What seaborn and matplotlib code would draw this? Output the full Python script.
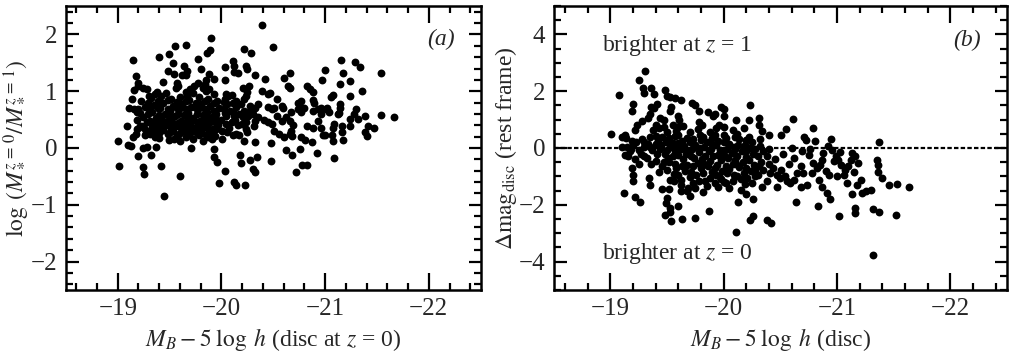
import matplotlib
matplotlib.use("Agg")
import matplotlib.pyplot as plt
import pandas as pd
import seaborn as sns
from matplotlib.ticker import MultipleLocator

# ---- panel (a): stellar-mass growth vs disc magnitude at z = 0 ----
a_upper = [
    (-19.90, 1.94), (-19.66, 1.81), (-19.55, 1.79), (-19.15, 1.55), (-19.40, 1.60),
    (-19.49, 1.65), (-19.86, 1.68), (-19.89, 1.72), (-19.77, 1.56), (-19.53, 1.49),
    (-19.64, 1.44), (-19.18, 1.27), (-19.48, 1.35), (-19.54, 1.31), (-19.67, 1.36),
    (-19.66, 1.29), (-19.62, 1.28), (-19.80, 1.39), (-19.88, 1.30), (-20.03, 1.42),
    (-19.20, 1.15), (-19.20, 1.09), (-19.44, 1.16), (-19.57, 1.14), (-19.58, 1.09),
    (-19.56, 1.06), (-19.85, 1.19), (-19.84, 1.12), (-19.93, 1.21), (-20.03, 1.20),
    (-19.77, 1.15), (-19.74, 1.09), (-19.70, 1.04), (-19.16, 1.02), (-19.24, 1.06),
    (-19.28, 1.04), (-19.30, 0.92), (-19.38, 0.99), (-19.66, 0.99), (-19.67, 0.92),
    (-19.82, 1.06), (-19.85, 1.01), (-19.88, 1.04), (-19.11, 0.70), (-19.14, 0.86),
    (-20.39, 2.16), (-20.50, 1.78), (-20.22, 1.74), (-20.29, 1.68), (-21.15, 1.55),
    (-21.00, 1.37), (-20.11, 1.53), (-20.12, 1.44), (-20.24, 1.44), (-20.25, 1.40),
    (-20.12, 1.33), (-20.16, 1.32), (-20.32, 1.28), (-20.42, 1.22), (-20.66, 1.32),
    (-20.60, 1.24), (-20.97, 1.19), (-21.14, 1.12), (-21.24, 1.18), (-20.64, 1.09),
    (-20.66, 1.06), (-20.83, 1.09), (-20.85, 1.04), (-20.88, 0.99), (-20.21, 1.06),
    (-20.27, 1.09), (-20.39, 1.01), (-20.45, 0.95), (-20.47, 0.96), (-20.54, 0.87),
    (-20.25, 0.99), (-20.24, 0.92), (-20.22, 0.86), (-20.14, 0.83), (-20.04, 0.95),
    (-20.03, 0.86), (-20.06, 0.91), (-21.08, 0.93), (-21.06, 0.89), (-21.24, 0.91),
    (-21.14, 0.77), (-20.77, 0.83), (-20.74, 0.80), (-20.88, 0.84), (-20.89, 0.80),
    (-20.58, 0.74), (-20.51, 0.71), (-20.45, 0.73), (-20.35, 0.77), (-20.32, 0.71),
    (-20.28, 0.74), (-21.02, 0.71), (-20.96, 0.71), (-20.78, 0.70),
]

a_cluster = [
    (-19.22, 0.82), (-19.26, 0.72), (-19.24, 0.55), (-19.28, 0.45), (-19.23, 0.38),
    (-19.30, 0.30), (-19.26, 0.22), (-19.32, 0.88), (-19.35, 0.76), (-19.33, 0.64),
    (-19.37, 0.52), (-19.34, 0.42), (-19.38, 0.34), (-19.35, 0.26), (-19.42, 0.92),
    (-19.44, 0.80), (-19.41, 0.70), (-19.46, 0.60), (-19.43, 0.50), (-19.47, 0.40),
    (-19.44, 0.32), (-19.48, 0.24), (-19.51, 0.86), (-19.53, 0.74), (-19.50, 0.66),
    (-19.55, 0.56), (-19.52, 0.46), (-19.56, 0.38), (-19.53, 0.30), (-19.57, 0.22),
    (-19.60, 0.90), (-19.62, 0.78), (-19.59, 0.68), (-19.64, 0.58), (-19.61, 0.48),
    (-19.65, 0.40), (-19.62, 0.32), (-19.66, 0.26), (-19.69, 0.84), (-19.71, 0.72),
    (-19.68, 0.62), (-19.73, 0.52), (-19.70, 0.44), (-19.74, 0.36), (-19.71, 0.28),
    (-19.78, 0.90), (-19.80, 0.78), (-19.77, 0.68), (-19.82, 0.58), (-19.79, 0.48),
    (-19.83, 0.40), (-19.80, 0.30), (-19.87, 0.86), (-19.89, 0.74), (-19.86, 0.64),
    (-19.91, 0.54), (-19.88, 0.44), (-19.92, 0.34), (-19.89, 0.26), (-19.96, 0.82),
    (-19.98, 0.70), (-19.95, 0.60), (-20.00, 0.50), (-19.97, 0.40), (-20.01, 0.30),
    (-20.05, 0.78), (-20.08, 0.66), (-20.04, 0.56), (-20.10, 0.46), (-20.07, 0.36),
    (-20.14, 0.72), (-20.17, 0.60), (-20.13, 0.50), (-20.20, 0.42), (-20.22, 0.66),
    (-20.26, 0.56), (-20.24, 0.46),
]

a_cluster_fill = [
    (-19.36, 0.95), (-19.47, 0.97), (-19.73, 0.96), (-19.93, 0.95), (-20.10, 0.93),
    (-19.29, 0.80), (-19.39, 0.83), (-19.48, 0.84), (-19.57, 0.81), (-19.66, 0.83),
    (-19.75, 0.80), (-19.84, 0.82), (-19.93, 0.79), (-20.02, 0.81), (-20.11, 0.80),
    (-20.19, 0.78), (-19.20, 0.68), (-19.30, 0.69), (-19.39, 0.71), (-19.48, 0.68),
    (-19.57, 0.70), (-19.66, 0.69), (-19.75, 0.71), (-19.84, 0.68), (-19.93, 0.66),
    (-20.02, 0.69), (-20.11, 0.64), (-20.28, 0.66), (-19.21, 0.62), (-19.29, 0.59),
    (-19.40, 0.58), (-19.49, 0.57), (-19.58, 0.60), (-19.67, 0.56), (-19.76, 0.59),
    (-19.85, 0.57), (-19.94, 0.55), (-20.03, 0.62), (-20.12, 0.57), (-20.21, 0.54),
    (-20.30, 0.60), (-19.19, 0.49), (-19.31, 0.48), (-19.39, 0.46), (-19.49, 0.49),
    (-19.58, 0.44), (-19.67, 0.47), (-19.76, 0.45), (-19.85, 0.49), (-19.94, 0.46),
    (-20.04, 0.43), (-20.16, 0.40), (-19.25, 0.35), (-19.33, 0.37), (-19.42, 0.38),
    (-19.51, 0.35), (-19.60, 0.37), (-19.69, 0.34), (-19.77, 0.38), (-19.86, 0.35),
    (-19.95, 0.33), (-20.05, 0.28), (-19.31, 0.24), (-19.40, 0.27), (-19.50, 0.28),
    (-19.59, 0.25), (-19.68, 0.22), (-19.76, 0.26), (-19.85, 0.23), (-19.94, 0.21),
    (-19.40, 0.17), (-19.54, 0.16), (-19.60, 0.13), (-19.73, 0.15), (-19.82, 0.12),
]

a_lower = [
    (-19.45, -0.84), (-19.01, -0.32), (-19.00, 0.13), (-19.09, 0.39), (-19.10, 0.06),
    (-19.13, 0.03), (-19.20, -0.15), (-19.24, -0.34), (-19.25, -0.46), (-19.24, 0.00),
    (-19.28, 0.01), (-19.32, -0.12), (-19.37, 0.02), (-19.42, -0.32), (-19.60, -0.50),
    (-19.71, 0.00), (-19.93, -0.02), (-19.93, -0.16), (-19.96, -0.25), (-20.03, -0.40),
    (-19.98, -0.61), (-19.15, 0.19), (-19.18, 0.25), (-19.19, 0.33), (-19.21, 0.39),
    (-19.27, 0.26), (-19.36, 0.19), (-19.49, 0.14), (-19.66, 0.19), (-19.78, 0.22),
    (-19.87, 0.19), (-19.91, 0.16), (-20.01, 0.16), (-19.16, 0.68), (-19.19, 0.63),
    (-20.12, -0.60), (-20.14, -0.66), (-20.23, -0.65), (-20.18, -0.12), (-20.19, -0.27),
    (-20.28, -0.22), (-20.34, -0.16), (-20.30, -0.37), (-20.32, -0.43), (-20.48, -0.23),
    (-20.72, -0.43), (-20.78, -0.30), (-20.83, -0.30), (-20.62, -0.03), (-20.68, -0.12),
    (-20.76, -0.02), (-20.92, -0.08), (-21.09, -0.18),
]

a_right = [
    (-20.48, 0.08), (-20.32, 0.10), (-20.22, 0.13), (-20.60, 0.19), (-20.68, 0.21),
    (-20.77, 0.19), (-20.81, 0.14), (-20.87, 0.10), (-20.98, 0.22), (-21.00, 0.22),
    (-21.07, 0.22), (-21.08, 0.13), (-21.17, 0.14), (-21.13, 0.61), (-21.24, 0.51),
    (-21.09, 0.42), (-21.08, 0.36), (-21.16, 0.39), (-21.16, 0.28), (-20.96, 0.36),
    (-20.83, 0.39), (-20.88, 0.35), (-20.93, 0.48), (-20.66, 0.48), (-20.69, 0.41),
    (-20.67, 0.30), (-20.66, 0.25), (-20.51, 0.30), (-20.56, 0.25), (-20.49, 0.42),
    (-20.45, 0.45), (-20.41, 0.49), (-20.31, 0.39), (-20.32, 0.48), (-20.35, 0.54),
    (-20.24, 0.33), (-20.25, 0.28), (-20.17, 0.22), (-20.14, 0.25), (-20.11, 0.22),
    (-20.74, 0.68), (-20.77, 0.63), (-20.80, 0.71), (-20.88, 0.65), (-20.93, 0.68),
    (-20.96, 0.60), (-21.01, 0.68), (-21.04, 0.63), (-21.12, 0.60), (-21.14, 0.71),
    (-20.49, 0.68), (-20.59, 0.71), (-20.67, 0.63), (-20.62, 0.54), (-20.54, 0.57),
    (-20.58, 0.48), (-21.29, 1.51), (-21.34, 1.42), (-21.54, 1.32), (-21.36, 1.00),
    (-21.30, 0.69), (-21.28, 0.60), (-21.38, 0.57), (-21.41, 0.39), (-21.47, 0.36),
    (-21.38, 0.28), (-21.40, 0.21), (-21.54, 0.58), (-21.66, 0.54), (-21.32, 0.51),
    (-21.24, 0.39), (-21.17, 1.32),
]

# ---- panel (b): rest-frame disc magnitude change vs disc magnitude ----
b_upper = [
    (-19.31, 2.70), (-19.25, 2.39), (-19.29, 2.13), (-19.30, 1.94), (-19.36, 2.11),
    (-19.39, 1.90), (-19.48, 2.05), (-19.08, 1.85), (-19.50, 1.82), (-19.53, 1.78),
    (-19.57, 1.76), (-19.62, 1.70), (-19.72, 1.60), (-19.75, 1.52), (-19.20, 1.55),
    (-19.19, 1.31), (-19.41, 1.55), (-19.39, 1.41), (-19.36, 1.43), (-19.54, 1.43),
    (-19.53, 1.29), (-19.78, 1.31), (-19.86, 1.26), (-19.92, 1.19), (-19.91, 1.13),
    (-19.98, 1.46), (-20.00, 1.38), (-20.00, 1.14), (-20.23, 1.50), (-19.35, 1.19),
    (-19.33, 1.05), (-19.44, 1.05), (-19.47, 0.99), (-19.60, 1.11), (-19.61, 0.99),
    (-19.28, 0.96), (-19.24, 0.81), (-19.22, 0.64), (-19.40, 0.81), (-19.43, 0.71),
    (-19.47, 0.74), (-19.55, 0.81), (-19.60, 0.75), (-19.64, 0.79), (-19.78, 0.93),
    (-19.81, 0.81), (-19.96, 0.81), (-19.93, 0.70), (-20.00, 0.75), (-19.01, 0.48),
    (-19.10, 0.40), (-19.14, 0.34), (-19.13, 0.46), (-19.19, 0.24), (-19.23, 0.22),
    (-20.11, 0.97), (-20.22, 1.00), (-20.31, 1.06), (-20.31, 0.81), (-20.34, 0.60),
    (-20.61, 1.02), (-20.55, 0.67), (-20.51, 0.46), (-20.40, 0.44), (-20.79, 0.72),
    (-20.71, 0.40), (-20.73, 0.28), (-20.81, 0.25), (-20.95, 0.31), (-21.37, 0.20),
]

b_band = [
    (-19.28, 0.30), (-19.33, 0.15), (-19.30, 0.02), (-19.37, -0.08), (-19.27, -0.20),
    (-19.32, -0.35), (-19.40, 0.42), (-19.42, 0.28), (-19.45, 0.10), (-19.44, -0.05),
    (-19.48, -0.20), (-19.40, -0.45), (-19.46, -0.62), (-19.43, -0.85), (-19.50, 0.55),
    (-19.52, 0.35), (-19.55, 0.18), (-19.53, 0.02), (-19.57, -0.12), (-19.55, -0.30),
    (-19.52, -0.50), (-19.58, -0.70), (-19.56, -0.90), (-19.60, 0.45), (-19.63, 0.25),
    (-19.65, 0.08), (-19.62, -0.05), (-19.67, -0.22), (-19.64, -0.40), (-19.68, -0.60),
    (-19.66, -0.82), (-19.70, -1.02), (-19.70, 0.55), (-19.73, 0.32), (-19.75, 0.12),
    (-19.72, -0.02), (-19.78, -0.15), (-19.74, -0.35), (-19.77, -0.52), (-19.80, -0.72),
    (-19.76, -0.95), (-19.78, -1.15), (-19.82, 0.40), (-19.85, 0.20), (-19.83, 0.05),
    (-19.87, -0.10), (-19.84, -0.28), (-19.88, -0.45), (-19.86, -0.65), (-19.90, -0.85),
    (-19.88, -1.05), (-19.85, -1.35), (-19.92, 0.45), (-19.95, 0.25), (-19.93, 0.10),
    (-19.97, -0.08), (-19.95, -0.25), (-19.98, -0.42), (-19.94, -0.60), (-19.99, -0.80),
    (-19.96, -1.00), (-19.92, -1.22), (-20.02, 0.35), (-20.05, 0.15), (-20.03, -0.02),
    (-20.07, -0.18), (-20.04, -0.35), (-20.08, -0.55), (-20.05, -0.75), (-20.09, -0.95),
    (-20.02, -1.25), (-20.12, 0.50), (-20.14, 0.30), (-20.13, 0.10), (-20.16, -0.10),
    (-20.12, -0.30), (-20.17, -0.48), (-20.14, -0.68), (-20.18, -0.88), (-20.15, -1.10),
    (-20.22, 0.40), (-20.25, 0.20), (-20.23, 0.00), (-20.26, -0.22), (-20.22, -0.42),
    (-20.27, -0.60), (-20.24, -0.80), (-20.28, -1.00), (-20.25, -1.25), (-20.32, 0.30),
    (-20.30, -0.30), (-20.33, -0.50), (-20.30, -0.95), (-19.15, 0.05), (-19.18, -0.05),
    (-19.22, -0.40), (-19.25, -0.55), (-19.10, 0.02), (-19.20, 0.10), (-19.52, -1.45),
    (-19.62, -1.50), (-19.75, -1.40), (-19.82, -1.55), (-19.70, -1.68), (-19.95, -1.38),
    (-20.00, -1.20), (-20.05, -1.40), (-20.15, -1.48), (-20.20, -1.62),
    (-20.32, 0.06), (-20.35, -0.12), (-20.38, -0.29), (-20.31, -0.65), (-20.35, -0.77),
    (-20.41, -0.88), (-20.44, -0.71), (-20.47, -0.94), (-20.51, -0.77), (-20.54, -1.00),
    (-20.56, -1.18), (-20.62, -1.12), (-20.65, -0.88), (-20.68, -0.65), (-20.69, -0.12),
    (-20.75, -0.24), (-20.79, -0.53), (-20.82, -0.71), (-20.87, -0.41), (-20.88, -0.18),
    (-20.92, 0.06), (-20.96, -0.06), (-20.99, -0.29), (-21.01, -0.41), (-21.04, -0.59),
    (-21.07, -0.77), (-21.10, -0.65), (-21.13, -0.18), (-21.16, -0.29), (-21.19, -0.53),
    (-21.21, -1.12), (-21.18, -1.30), (-21.09, -1.24), (-21.00, -1.00), (-20.93, -0.94),
    (-20.84, -1.12), (-20.78, -0.88), (-20.74, -1.30), (-20.68, -1.36), (-20.59, -1.24),
    (-20.47, -1.36), (-20.38, -1.18), (-20.34, -1.36),
]

b_band_fill = [
    (-19.38, 0.62), (-19.58, 0.60), (-19.77, 0.66), (-19.88, 0.58), (-20.08, 0.62),
    (-20.18, 0.70), (-19.35, 0.40), (-19.46, 0.38), (-19.57, 0.42), (-19.68, 0.36),
    (-19.79, 0.44), (-19.90, 0.34), (-20.00, 0.45), (-20.10, 0.38), (-20.20, 0.28),
    (-19.30, 0.20), (-19.40, 0.15), (-19.49, 0.22), (-19.60, 0.18), (-19.70, 0.20),
    (-19.80, 0.27), (-19.90, 0.15), (-20.00, 0.22), (-20.09, 0.05), (-20.19, 0.10),
    (-19.25, -0.06), (-19.35, 0.05), (-19.50, -0.08), (-19.60, 0.02), (-19.68, -0.10),
    (-19.78, 0.00), (-19.89, -0.02), (-19.99, -0.16), (-20.10, -0.02), (-20.20, -0.12),
    (-20.28, -0.05), (-19.30, -0.28), (-19.41, -0.22), (-19.51, -0.35), (-19.60, -0.25),
    (-19.71, -0.30), (-19.81, -0.38), (-19.91, -0.30), (-20.01, -0.28), (-20.10, -0.42),
    (-20.20, -0.32), (-19.36, -0.58), (-19.47, -0.50), (-19.57, -0.55), (-19.63, -0.62),
    (-19.73, -0.65), (-19.83, -0.58), (-19.92, -0.70), (-20.02, -0.62), (-20.11, -0.55),
    (-20.20, -0.70), (-20.28, -0.80), (-19.50, -0.78), (-19.60, -0.95), (-19.71, -0.85),
    (-19.82, -0.88), (-19.93, -0.95), (-20.03, -0.88), (-20.12, -0.98), (-20.21, -1.05),
    (-19.62, -1.12), (-19.73, -1.25), (-19.84, -1.18), (-19.98, -1.10), (-20.08, -1.15),
    (-20.19, -1.28), (-20.40, -0.05), (-20.45, -0.40), (-20.52, -0.20), (-20.58, -0.55),
    (-20.62, -0.35), (-20.70, -0.88), (-20.76, -0.05), (-20.85, -0.60), (-20.90, -0.80),
    (-20.97, -0.45), (-21.03, -0.15), (-21.06, -0.95), (-21.12, -0.42), (-21.15, -0.85),
    (-20.50, -1.05), (-20.40, -0.55), (-20.60, 0.00),
]

b_lower = [
    (-19.13, -0.24), (-19.17, -0.12), (-19.16, -0.30), (-19.19, -0.71), (-19.20, -0.94),
    (-19.20, -1.18), (-19.12, -1.57), (-19.22, -1.71), (-19.26, -1.89), (-19.34, -1.06),
    (-19.35, -1.30), (-19.46, -1.44), (-19.50, -1.77), (-19.49, -1.95), (-19.53, -2.12),
    (-19.53, -2.27), (-19.48, -2.36), (-19.54, -2.56), (-19.63, -2.50), (-19.75, -2.48),
    (-19.60, -2.06), (-19.53, -1.12), (-19.56, -1.18), (-19.62, -1.30), (-19.68, -1.53),
    (-19.69, -1.42), (-19.87, -2.21), (-20.11, -2.97), (-20.13, -1.89), (-20.26, -1.79),
    (-20.23, -2.54), (-20.26, -2.40), (-20.38, -2.54), (-20.42, -2.63), (-20.64, -1.92),
    (-20.83, -2.04), (-21.02, -2.40), (-21.16, -2.30), (-21.16, -2.12), (-21.32, -2.16),
    (-21.37, -2.24), (-21.52, -2.36), (-21.32, -3.78), (-21.53, -1.27), (-21.64, -1.38),
    (-21.46, -1.31), (-21.40, -1.06), (-21.35, -0.41), (-21.36, -0.59), (-21.36, -0.83),
    (-21.30, -1.47), (-21.26, -1.53), (-21.22, -1.57), (-21.13, -1.62), (-20.94, -1.81),
    (-20.91, -1.57), (-20.87, -1.38),
]

panel_a = pd.DataFrame(a_upper + a_cluster + a_cluster_fill + a_lower + a_right,
                       columns=["mag", "logratio"])
panel_b = pd.DataFrame(b_upper + b_band + b_band_fill + b_lower, columns=["mag", "dmag"])

sns.set_style("ticks")
plt.rcParams["font.family"] = ["Liberation Serif", "DejaVu Serif"]
plt.rcParams["mathtext.fontset"] = "stix"
plt.rcParams["axes.unicode_minus"] = True

fig = plt.figure(figsize=(10.14, 3.57), dpi=100)
ax_a = fig.add_axes([0.065, 0.188, 0.409, 0.795])
ax_b = fig.add_axes([0.546, 0.188, 0.447, 0.795])

dot = dict(color="black", s=32, linewidth=0, legend=False)
sns.scatterplot(data=panel_a, x="mag", y="logratio", ax=ax_a, **dot)
sns.scatterplot(data=panel_b, x="mag", y="dmag", ax=ax_b, **dot)

ax_b.axhline(0, color="black", lw=1.6, ls=(0, (2.0, 1.0)), zorder=0)

for ax in (ax_a, ax_b):
    ax.set_xlim(-18.5, -22.5)
    ax.xaxis.set_major_locator(MultipleLocator(1))
    ax.xaxis.set_minor_locator(MultipleLocator(0.2))
    for sp in ax.spines.values():
        sp.set_linewidth(1.8)
        sp.set_color("black")
        sp.set_visible(True)
    ax.tick_params(which="both", direction="in", top=True, right=True,
                   width=1.6, color="black", labelsize=18, pad=6)
    ax.tick_params(axis="x", which="major", length=12)
    ax.tick_params(axis="y", which="major", length=9)
    ax.tick_params(which="minor", length=5)

ax_a.set_ylim(-2.5, 2.5)
ax_a.yaxis.set_major_locator(MultipleLocator(1))
ax_a.yaxis.set_minor_locator(MultipleLocator(0.2))
ax_b.set_ylim(-5, 5)
ax_b.yaxis.set_major_locator(MultipleLocator(2))
ax_b.yaxis.set_minor_locator(MultipleLocator(0.5))

ax_a.set_xlabel(r"$M_B - 5\;\log\;h$ (disc at $z$ = 0)", fontsize=17, labelpad=4)
ax_a.set_ylabel(r"$\log\;(M_*^{z\,=\,0}/M_*^{z\,=\,1})$", fontsize=17, labelpad=0)
ax_b.set_xlabel(r"$M_B - 5\;\log\;h$ (disc)", fontsize=17, labelpad=4)
ax_b.set_ylabel(r"$\Delta\mathrm{mag}_{\mathrm{disc}}$ (rest frame)", fontsize=17, labelpad=0)

ax_a.text(-22.12, 1.92, "(a)", fontsize=17, style="italic", ha="center", va="center")
ax_b.text(-22.15, 3.78, "(b)", fontsize=17, style="italic", ha="center", va="center")
ax_b.text(-18.93, 3.6, r"brighter at $z$ = 1", fontsize=17, ha="left", va="center")
ax_b.text(-18.93, -3.72, r"brighter at $z$ = 0", fontsize=17, ha="left", va="center")

fig.savefig("out.png", dpi=100)
